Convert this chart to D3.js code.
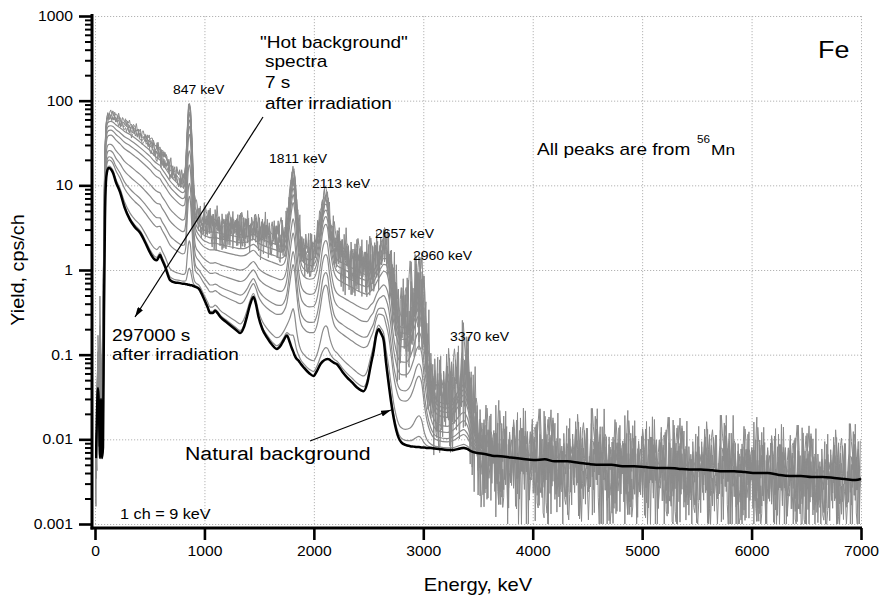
<!DOCTYPE html>
<html><head><meta charset="utf-8">
<script src="https://cdn.jsdelivr.net/npm/d3@7"></script>
<style>
html,body{margin:0;padding:0;background:#fff;}
svg{display:block;font-family:"Liberation Sans",Arial,Helvetica,sans-serif;}
</style></head><body>
<svg id="chart" width="880" height="596"></svg>
<script>
// ---------------- DATA ----------------
// energy knots, keV
const energyKnots = [
  9,18,27,37,46,55,64,73,82,91,
  100,110,120,130,145,165,190,229,270,320,
  365,412,460,503,540,564,580,595,610,640,
  686,730,778,800,815,830,842,852,862,872,
  884,896,908,920,950,988,1030,1052,1075,1098,
  1120,1144,1205,1281,1327,1360,1388,1420,1448,1470,
  1494,1530,1571,1620,1662,1700,1723,1754,1780,1798,
  1810,1822,1840,1860,1880,1906,1960,1997,2030,2059,
  2080,2095,2110,2125,2140,2160,2185,2211,2260,2303,
  2350,2394,2455,2486,2520,2546,2570,2592,2612,2638,
  2660,2684,2707,2729,2752,2775,2800,2836,2880,2912,
  2940,2960,2985,3010,3035,3065,3100,3140,3218,3280,
  3339,3370,3401,3440,3492,3560,3630,3706,3800,3900,
  4010,4110,4200,4315,4420,4520,4620,4720,4820,4926,
  5030,5130,5231,5330,5430,5536,5640,5740,5841,5940,
  6040,6146,6250,6350,6451,6550,6650,6755,6850,6950,
  7000];
// natural background spectrum, cps/ch (black curve)
const naturalBackground = [
  0.006,0.02,0.04,0.02,0.006,0.03,0.006,0.008,0.3,4,
  11,14.5,15.8,16,15.5,14,11,8.3,5.5,3.9,
  3.2,2.75,2.1,1.6,1.35,1.3,1.4,1.5,1.35,1.1,
  0.76,0.71,0.7,0.69,0.69,0.68,0.68,0.67,0.67,0.66,
  0.66,0.65,0.64,0.63,0.6,0.48,0.36,0.31,0.31,0.33,
  0.31,0.28,0.24,0.2,0.18,0.21,0.28,0.4,0.48,0.4,
  0.28,0.2,0.16,0.13,0.117,0.13,0.147,0.168,0.14,0.12,
  0.11,0.1,0.09,0.085,0.078,0.071,0.06,0.056,0.065,0.077,
  0.083,0.086,0.088,0.089,0.088,0.084,0.08,0.077,0.063,0.054,
  0.047,0.041,0.037,0.045,0.075,0.11,0.17,0.2,0.18,0.147,
  0.08,0.045,0.027,0.018,0.013,0.0104,0.0092,0.0086,0.0083,0.0082,
  0.0081,0.0081,0.008,0.008,0.0079,0.0079,0.0078,0.0077,0.0075,0.0075,
  0.0078,0.0079,0.0077,0.0072,0.0069,0.0067,0.0064,0.0063,0.0061,0.0059,
  0.0057,0.0058,0.0055,0.0055,0.0053,0.0051,0.005,0.005,0.0048,0.0048,
  0.0047,0.0046,0.0046,0.0045,0.0044,0.0044,0.0043,0.0042,0.0042,0.0041,
  0.004,0.004,0.0038,0.0037,0.0037,0.0036,0.0036,0.0035,0.0034,0.0033,
  0.0034];
// 56Mn component of the "hot background" spectrum 7 s after irradiation, cps/ch
const mnComponent = [
  0,0.001,0.06,0,0.2,0,0.04,0.2,5,25,
  42,52,55,56,57.5,58,57,55,52.5,50,
  45.8,41.2,37,33.4,29.6,27.7,26.6,25.5,23.6,20.9,
  17.2,14.8,12.8,12.3,12.5,17,45,80,96,82,
  42,15,7,4.8,3.9,3.5,3.45,3.45,3.45,3.42,
  3.4,3.38,3.3,3.2,3.15,3.1,3.05,3.02,3.0,2.98,
  2.95,2.9,2.8,2.7,2.6,2.45,2.5,3.5,8,12.5,
  15,13,7,3.5,2.3,1.9,1.75,1.8,2.3,4,
  6.5,7.8,8.2,7.4,5,3.2,2.1,1.75,1.6,1.5,
  1.4,1.3,1.2,1.15,1.2,1.2,1.3,1.45,1.7,2.0,
  2.1,1.7,1.0,0.55,0.38,0.3,0.28,0.28,0.33,0.45,
  0.62,0.68,0.55,0.25,0.12,0.06,0.035,0.028,0.026,0.032,
  0.045,0.05,0.04,0.018,0.006,0.001,0,0,0,0,
  0,0,0,0,0,0,0,0,0,0,
  0,0,0,0,0,0,0,0,0,0,
  0,0,0,0,0,0,0,0,0,0,
  0];
// relative 56Mn amplitude of the successive "hot background" spectra
const noisyFactors = [1.0, 0.95, 0.9, 0.85, 0.8];
const smoothFactors = [0.72, 0.61, 0.51, 0.41, 0.26, 0.175, 0.103, 0.07, 0.016, 0.004];
// counting-statistics fluctuation pattern (in units of the local spread)
const noisePattern = [0.3,-0.8,1.1,-0.2,0.6,-1.9,0.1,0.9,-0.5,1.6,-1.1,0.4,-0.3,0.8,-2.4,0.2,1.3,-0.7,0.5,-1.4,1.0,-0.1,0.7,-0.9,1.8,-0.4,0.0,-2.0,0.9,0.3,-0.6,1.2,-1.2,0.5,-0.2,1.5,-0.8,0.1,-1.6,0.7,0.4,-0.3,2.0,-1.0,0.2,-0.5,0.9,-2.6,0.6,1.1,-0.4,0.3,-1.3,0.8,-0.1,1.4,-0.9,0.0,-1.8,1.0,0.5,-0.6,0.2,-1.1,1.7,-0.3,0.6,-2.2,0.4,0.9,-0.7,1.2,-0.2,0.1,-1.5,0.8,-0.4,1.9,-1.0,0.3,-0.8,0.6,-2.8,1.1,0.2,-0.5,0.7,-1.2,1.3,-0.1,0.4,-1.7,0.9,0.0,-0.6,1.6,-0.9,0.5,-2.1,0.8,0.3,-0.3,1.0,-1.4,0.2,0.7,-0.2,1.4,-1.1,0.1,-0.7,2.2,-0.5,0.6,-1.9,0.4,1.2,-0.8,0.3,-0.4,0.9,-2.3,1.5,-0.6,0.2,-1.0,0.7,0.1,-1.3,1.1,-0.2];
const noiseStride = [1, 7, 11, 17, 23];
const noiseOffset = [0, 29, 58, 87, 113];
const channelWidth = 9; // keV, "1 ch = 9 keV"

const xTicks = [0,1000,2000,3000,4000,5000,6000,7000];
const xTickLabels = ["0","1000","2000","3000","4000","5000","6000","7000"];
const yTicks = [0.001,0.01,0.1,1,10,100,1000];
const yTickLabels = ["0.001","0.01","0.1","1","10","100","1000"];
const peakLabels = ["847 keV","1811 keV","2113 keV","2657 keV","2960 keV","3370 keV"];

// ---------------- CHART ----------------
const svg = d3.select("#chart");
const x = d3.scaleLinear().domain([0,7000]).range([95,861]);
const y = d3.scaleLog().domain([0.001,1000]).range([524,16]).clamp(true);
const SX = 1.12; // horizontal stretch of the reference lettering
const gray = "#8b8b8b";

// grid
const grid = svg.append("g").attr("stroke","#b4b4b4").attr("stroke-width",1).attr("stroke-dasharray","1.2,1.8");
grid.selectAll("line.v").data(xTicks).join("line").attr("class","v")
  .attr("x1",d=>x(d)+0.5).attr("x2",d=>x(d)+0.5).attr("y1",y(1000)).attr("y2",y(0.001));
grid.selectAll("line.h").data(yTicks).join("line").attr("class","h")
  .attr("x1",x(0)).attr("x2",x(7000)).attr("y1",d=>y(d)+0.5).attr("y2",d=>y(d)+0.5);

svg.append("clipPath").attr("id","plotclip").append("rect")
  .attr("x",x(0)).attr("y",y(1000)-1).attr("width",x(7000)-x(0)+1).attr("height",y(0.001)-y(1000)+2);
const plot = svg.append("g").attr("clip-path","url(#plotclip)");

// noisy "hot background" spectra on the channel grid
const bis = d3.bisector(d=>d).right;
function expected(E,f){
  let i = bis(energyKnots,E);
  if(i<1) i=1; if(i>energyKnots.length-1) i=energyKnots.length-1;
  const e0=energyKnots[i-1], e1=energyKnots[i];
  const v0=naturalBackground[i-1]+f*mnComponent[i-1], v1=naturalBackground[i]+f*mnComponent[i];
  const t=Math.max(0,Math.min(1,(E-e0)/(e1-e0)));
  return Math.pow(10, Math.log10(v0)*(1-t)+Math.log10(v1)*t);
}
const channels = d3.range(0, 7000+1, channelWidth);
const lineXY = d3.line().defined(d=>isFinite(d[1])).x(d=>x(d[0])).y(d=>y(d[1]));
noisyFactors.forEach((f,j)=>{
  const pts = channels.map((E,k)=>{
    const b = expected(E,f);
    const amp = Math.min(0.3, 0.18/Math.sqrt(b));
    const p = noisePattern[(k*noiseStride[j]+noiseOffset[j]) % noisePattern.length];
    return [E, b*Math.pow(10, amp*p)];
  });
  plot.append("path").attr("d",lineXY(pts)).attr("fill","none")
    .attr("stroke",gray).attr("stroke-width",1).attr("stroke-linejoin","round");
});

// smoother, later spectra
const lineSmooth = d3.line().x(d=>x(d[0])).y(d=>y(d[1])).curve(d3.curveMonotoneX);
smoothFactors.forEach(f=>{
  const pts = energyKnots.map((E,i)=>[E, naturalBackground[i]+f*mnComponent[i]]);
  plot.append("path").attr("d",lineSmooth(pts)).attr("fill","none")
    .attr("stroke",gray).attr("stroke-width",1.2);
});

// natural background (black)
plot.append("path")
  .attr("d",lineSmooth(energyKnots.map((E,i)=>[E,naturalBackground[i]])))
  .attr("fill","none").attr("stroke","#000").attr("stroke-width",2.5).attr("stroke-linejoin","round");

// axes
const yMinor = [];
yTicks.slice(0,-1).forEach(d=>{ for(let m=2;m<=9;m++) yMinor.push(d*m); });
const yAxisMinor = svg.append("g").attr("transform","translate(92,0)")
  .call(d3.axisLeft(y).tickValues(yMinor).tickSize(7).tickFormat(""));
yAxisMinor.select(".domain").remove();
yAxisMinor.selectAll("line").attr("stroke-width",2);
const yAxis = svg.append("g").attr("transform","translate(92,0)")
  .call(d3.axisLeft(y).tickValues(yTicks).tickSize(13).tickPadding(6).tickFormat((d,i)=>yTickLabels[i]));
yAxis.select(".domain").remove();
yAxis.selectAll("line").attr("stroke-width",2.6);
yAxis.selectAll("text").attr("font-size",14).attr("fill","#000")
  .each(function(){ const t=d3.select(this); const tx=+t.attr("x"); t.attr("x",0).attr("transform",`translate(${tx},0) scale(${SX},1)`); });

const xAxis = svg.append("g").attr("transform","translate(0,528)")
  .call(d3.axisBottom(x).tickValues(xTicks).tickSize(12).tickPadding(6).tickFormat((d,i)=>xTickLabels[i]));
xAxis.select(".domain").remove();
xAxis.selectAll("line").attr("stroke-width",2.6);
xAxis.selectAll("text").attr("font-size",14).attr("fill","#000").attr("transform",`scale(${SX},1)`);

// spines
svg.append("line").attr("x1",92).attr("x2",92).attr("y1",14).attr("y2",529.5).attr("stroke","#000").attr("stroke-width",3);
svg.append("line").attr("x1",90.5).attr("x2",862).attr("y1",528).attr("y2",528).attr("stroke","#000").attr("stroke-width",3);

// text helper
function label(tx,ty,str,size,anchor){
  return svg.append("text").attr("transform",`translate(${tx},${ty}) scale(${SX},1)`)
    .attr("font-size",size).attr("text-anchor",anchor||"start").attr("fill","#000").text(str);
}
// axis titles
label(478,591,"Energy, keV",18,"middle");
svg.append("text").attr("transform",`translate(24,270) rotate(-90) scale(1.1,1.0)`)
  .attr("font-size",18).attr("text-anchor","middle").text("Yield, cps/ch");

// peak labels
const peakPos = [[173,94],[269,163],[312,188],[375,238],[413,260],[450,341]];
peakLabels.forEach((s,i)=>label(peakPos[i][0],peakPos[i][1],s,12.5));

// annotations
label(260,48,"\"Hot background\"",17);
label(265,67,"spectra",17);
label(265,88,"7 s",17);
label(265,109,"after irradiation",17);
label(112,341,"297000 s",17);
label(112,360,"after irradiation",17);
label(185,460,"Natural background",19);
label(537,155,"All peaks are from",17);
label(697,143,"56",10.5);
label(711,155,"Mn",15.5);
label(818,58,"Fe",24);
label(120,519,"1 ch = 9 keV",14.5);

// arrows
const defs = svg.append("defs");
defs.append("marker").attr("id","ah").attr("viewBox","0 0 10 6").attr("refX",10).attr("refY",3)
  .attr("markerWidth",10).attr("markerHeight",6).attr("markerUnits","userSpaceOnUse").attr("orient","auto")
  .append("path").attr("d","M0,0 L10,3 L0,6 Z").attr("fill","#000");
svg.append("line").attr("x1",263).attr("y1",117).attr("x2",135).attr("y2",317)
  .attr("stroke","#000").attr("stroke-width",1.2).attr("marker-end","url(#ah)");
svg.append("line").attr("x1",310).attr("y1",441).attr("x2",391).attr("y2",410)
  .attr("stroke","#000").attr("stroke-width",1.2).attr("marker-end","url(#ah)");
</script>
</body></html>
